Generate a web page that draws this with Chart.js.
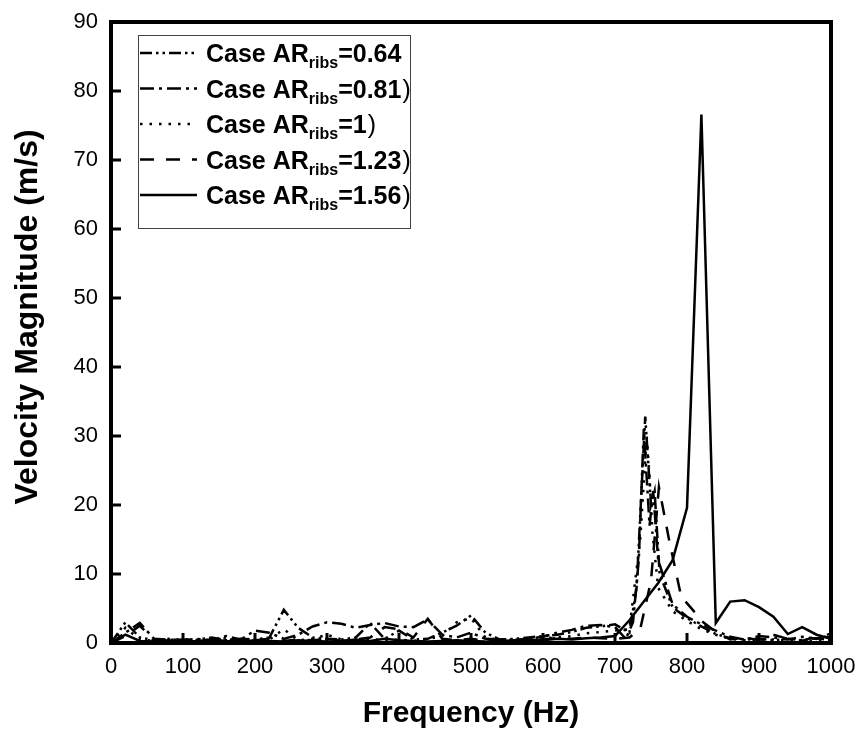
<!DOCTYPE html>
<html>
<head>
<meta charset="utf-8">
<script src="https://cdn.jsdelivr.net/npm/chart.js@4.4.1/dist/chart.umd.min.js"></script>
<style>
  html, body { margin: 0; padding: 0; background: #fff; }
  canvas { display: block; }
</style>
</head>
<body>
<canvas id="chart" width="862" height="735"></canvas>
<script>
// legend text: "Case AR" + sub "ribs" + "=" + value (+ ")" on most rows)
const caseValues = ['0.64', '0.81', '1', '1.23', '1.56'];
const caseParens = [false, true, true, true, true];

// Case AR_ribs = 0.64  (dash dot dot)
const freq064 = [0, 20, 40, 60, 80, 100, 120, 140, 160, 180, 200, 220, 240, 260, 280, 300, 320, 340, 360, 380,
  400, 420, 440, 460, 480, 500, 520, 540, 560, 580, 600, 620, 640, 660, 680, 700, 720,
  730, 742, 750, 755, 762,
  780, 800, 820, 840, 860, 880, 900, 920, 940, 960, 980, 1000];
const vel064 = [0, 3.0, 0.8, 0.4, 0.6, 0.3, 0.5, 0.8, 0.4, 0.6, 0.5, 0.8, 4.8, 2.2, 0.8, 0.6, 0.5, 0.8, 2.9, 0.6,
  1.8, 0.5, 0.6, 1.5, 2.5, 4.0, 1.5, 0.5, 0.6, 0.8, 1.0, 1.2, 1.6, 2.2, 2.4, 2.7, 1.5,
  8.0, 32.8, 20.0, 22.0, 10.0,
  5.2, 3.6, 2.4, 1.3, 0.7, 0.5, 0.6, 0.4, 0.6, 0.4, 0.7, 0.4];

// Case AR_ribs = 0.81  (dash dot)
const freq081 = [0, 20, 40, 60, 80, 100, 120, 140, 160, 180, 200, 220, 240, 260, 280, 300, 320, 340, 360, 380,
  400, 420, 440, 460, 480, 500, 520, 540, 560, 580, 600, 620, 640, 660, 680, 700,
  715, 725, 733, 740, 748, 753, 760,
  780, 800, 820, 840, 860, 880, 900, 920, 940, 960, 980, 1000];
const vel081 = [0, 1.5, 2.9, 0.6, 0.5, 0.4, 0.6, 0.4, 1.0, 0.5, 1.8, 1.5, 0.6, 1.2, 2.4, 3.0, 2.8, 2.2, 2.6, 2.9,
  2.4, 2.3, 3.4, 1.2, 0.8, 1.5, 0.6, 0.5, 0.4, 0.6, 0.9, 1.5, 1.9, 2.5, 2.6, 2.3,
  0.6, 3.0, 12.0, 31.0, 17.0, 22.0, 12.0,
  5.6, 3.8, 2.7, 1.8, 0.9, 0.5, 1.0, 0.8, 0.5, 0.9, 0.6, 1.4];

// Case AR_ribs = 1  (dotted)
const freq100 = [0, 20, 40, 60, 80, 100, 120, 140, 160, 180, 200, 220, 240, 260, 280, 300, 320, 340, 360, 380,
  400, 420, 440, 460, 480, 500, 520, 540, 560, 580, 600, 620, 640, 660, 680, 700,
  720, 735, 744, 748, 752, 760,
  780, 800, 820, 840, 860, 880, 900, 920, 940, 960, 980, 1000];
const vel100 = [0, 2.2, 0.5, 0.3, 0.4, 0.6, 0.3, 0.5, 0.7, 0.4, 0.3, 0.5, 2.0, 0.4, 0.6, 1.2, 0.5, 0.3, 0.6, 0.4,
  0.5, 0.3, 0.6, 1.0, 3.0, 3.6, 0.8, 0.4, 0.3, 0.5, 0.7, 0.8, 1.0, 1.4, 1.6, 1.8,
  2.0, 15.0, 30.0, 24.0, 16.0, 8.0,
  4.6, 3.2, 2.0, 1.2, 0.6, 0.4, 0.3, 0.5, 0.3, 0.4, 0.3, 0.2];

// Case AR_ribs = 1.23  (dashed)
const freq123 = [0, 20, 40, 60, 80, 100, 120, 140, 160, 180, 200, 220, 240, 260, 280, 300, 320, 340, 360, 380,
  400, 420, 440, 460, 480, 500, 520, 540, 560, 580, 600, 620, 640, 660, 680, 700,
  720, 735, 750, 761, 775, 792, 808, 820,
  840, 860, 880, 900, 920, 940, 960, 980, 1000];
const vel123 = [0, 1.0, 2.5, 0.4, 0.3, 0.5, 0.3, 0.4, 0.6, 0.3, 0.4, 0.6, 0.3, 0.5, 0.4, 0.6, 0.3, 0.5, 0.8, 2.3,
  2.0, 0.8, 3.5, 0.6, 0.4, 0.6, 0.3, 0.5, 0.4, 0.6, 0.5, 0.7, 0.6, 0.8, 0.7, 0.6,
  0.8, 2.0, 9.0, 22.6, 15.0, 6.7, 4.8, 3.2,
  1.6, 0.5, 0.8, 0.4, 1.2, 0.6, 0.3, 1.0, 0.8];

// Case AR_ribs = 1.56  (solid)
const freq156 = [0, 20, 40, 60, 80, 100, 120, 140, 160, 180, 200, 220, 240, 260, 280, 300, 320, 340, 360, 380,
  400, 420, 440, 460, 480, 500, 520, 540, 560, 580, 600, 620, 640, 660, 680,
  700, 720, 740, 760, 780, 800, 820, 840, 860, 880, 900, 920, 940, 960, 980, 1000];
const vel156 = [0, 1.2, 0.3, 0.2, 0.4, 0.2, 0.3, 0.5, 0.3, 0.2, 0.4, 0.3, 0.2, 0.4, 0.3, 0.2, 0.3, 0.5, 0.3, 0.6,
  0.4, 0.3, 0.2, 0.3, 0.4, 0.3, 0.2, 0.4, 0.3, 0.5, 0.4, 0.6, 0.5, 0.7, 0.8,
  1.0, 3.3, 6.0, 8.7, 12.0, 19.6, 76.6, 2.9, 6.0, 6.2, 5.2, 3.8, 1.3, 2.3, 1.2, 0.6];

const FONT = '"Liberation Sans", Arial, Helvetica, sans-serif';
Chart.defaults.font.family = FONT;
Chart.defaults.color = '#000';

const toPoints = (xs, ys) => xs.map((x, i) => ({ x: x, y: ys[i] }));

const series = [
  { data: toPoints(freq064, vel064), dash: [12, 4, 2.5, 4, 2.5, 4] },
  { data: toPoints(freq081, vel081), dash: [14, 5, 3, 5] },
  { data: toPoints(freq100, vel100), dash: [2.5, 7] },
  { data: toPoints(freq123, vel123), dash: [14, 12] },
  { data: toPoints(freq156, vel156), dash: [] },
];

// thick box round the plot, ticks pointing inwards, vertical axis title
const framePlugin = {
  id: 'frame',
  afterDatasetsDraw(chart) {
    const { ctx, chartArea: a, scales: { x, y } } = chart;
    ctx.save();
    ctx.strokeStyle = '#000';
    ctx.lineWidth = 3;
    ctx.beginPath();
    x.ticks.forEach(t => {
      const px = x.getPixelForValue(t.value);
      ctx.moveTo(px, a.bottom);
      ctx.lineTo(px, a.bottom - 10);
    });
    y.ticks.forEach(t => {
      const py = y.getPixelForValue(t.value);
      ctx.moveTo(a.left, py);
      ctx.lineTo(a.left + 10, py);
    });
    ctx.stroke();
    ctx.lineWidth = 4;
    ctx.strokeRect(a.left, a.top, a.right - a.left, a.bottom - a.top);

    ctx.translate(37, 317);
    ctx.rotate(-Math.PI / 2);
    ctx.font = 'bold 32px ' + FONT;
    ctx.fillStyle = '#000';
    ctx.textAlign = 'center';
    ctx.textBaseline = 'alphabetic';
    ctx.fillText('Velocity Magnitude (m/s)', 0, 0);
    ctx.restore();
  }
};

// legend with subscript "ribs"
const legendPlugin = {
  id: 'caseLegend',
  afterDraw(chart) {
    const ctx = chart.ctx;
    ctx.save();
    ctx.fillStyle = '#fff';
    ctx.fillRect(138.5, 35.5, 272, 193);
    ctx.strokeStyle = '#444';
    ctx.lineWidth = 1;
    ctx.strokeRect(138.5, 35.5, 272, 193);
    ctx.fillStyle = '#000';
    ctx.textBaseline = 'alphabetic';
    chart.data.datasets.forEach((ds, i) => {
      const y = 53 + 35.5 * i;
      ctx.strokeStyle = '#000';
      ctx.lineWidth = 2.5;
      ctx.setLineDash(ds.borderDash);
      ctx.beginPath();
      ctx.moveTo(140, y);
      ctx.lineTo(197, y);
      ctx.stroke();
      ctx.setLineDash([]);

      const base = y + 9;
      let x = 206;
      ctx.font = 'bold 25px ' + FONT;
      ctx.fillText('Case AR', x, base);
      x += ctx.measureText('Case AR').width;
      ctx.font = 'bold 16px ' + FONT;
      ctx.fillText('ribs', x, base + 6);
      x += ctx.measureText('ribs').width;
      ctx.font = 'bold 25px ' + FONT;
      const txt = '=' + caseValues[i];
      ctx.fillText(txt, x, base);
      x += ctx.measureText(txt).width;
      if (caseParens[i]) {
        ctx.font = '25px ' + FONT;
        ctx.fillText(')', x + 1, base);
      }
    });
    ctx.restore();
  }
};

new Chart(document.getElementById('chart'), {
  type: 'line',
  data: {
    datasets: series.map((s, i) => ({
      label: 'Case AR ribs=' + caseValues[i],
      data: s.data,
      borderColor: '#000',
      borderWidth: 2.5,
      borderDash: s.dash,
      pointRadius: 0,
      tension: 0,
      fill: false,
    })),
  },
  options: {
    responsive: false,
    animation: false,
    layout: { padding: { top: 22, right: 31, left: 0, bottom: 0 } },
    plugins: {
      legend: { display: false },
      tooltip: { enabled: false },
    },
    scales: {
      x: {
        type: 'linear',
        min: 0,
        max: 1000,
        afterFit: (scale) => { scale.height = 92; scale.paddingLeft = 0; scale.paddingRight = 0; },
        grid: { display: false, drawTicks: false },
        border: { display: false },
        ticks: { stepSize: 100, padding: 11, font: { size: 22 }, color: '#000', maxRotation: 0, callback: (v) => String(v) },
        title: {
          display: true,
          text: 'Frequency (Hz)',
          font: { size: 30, weight: 'bold' },
          color: '#000',
          padding: { top: 0, bottom: 3 },
        },
      },
      y: {
        type: 'linear',
        min: 0,
        max: 90,
        afterFit: (scale) => { scale.width = 111; scale.paddingTop = 0; scale.paddingBottom = 0; },
        grid: { display: false, drawTicks: false },
        border: { display: false },
        ticks: { stepSize: 10, padding: 13, font: { size: 22 }, color: '#000' },
        title: { display: false },
      },
    },
  },
  plugins: [framePlugin, legendPlugin],
});
</script>
</body>
</html>
